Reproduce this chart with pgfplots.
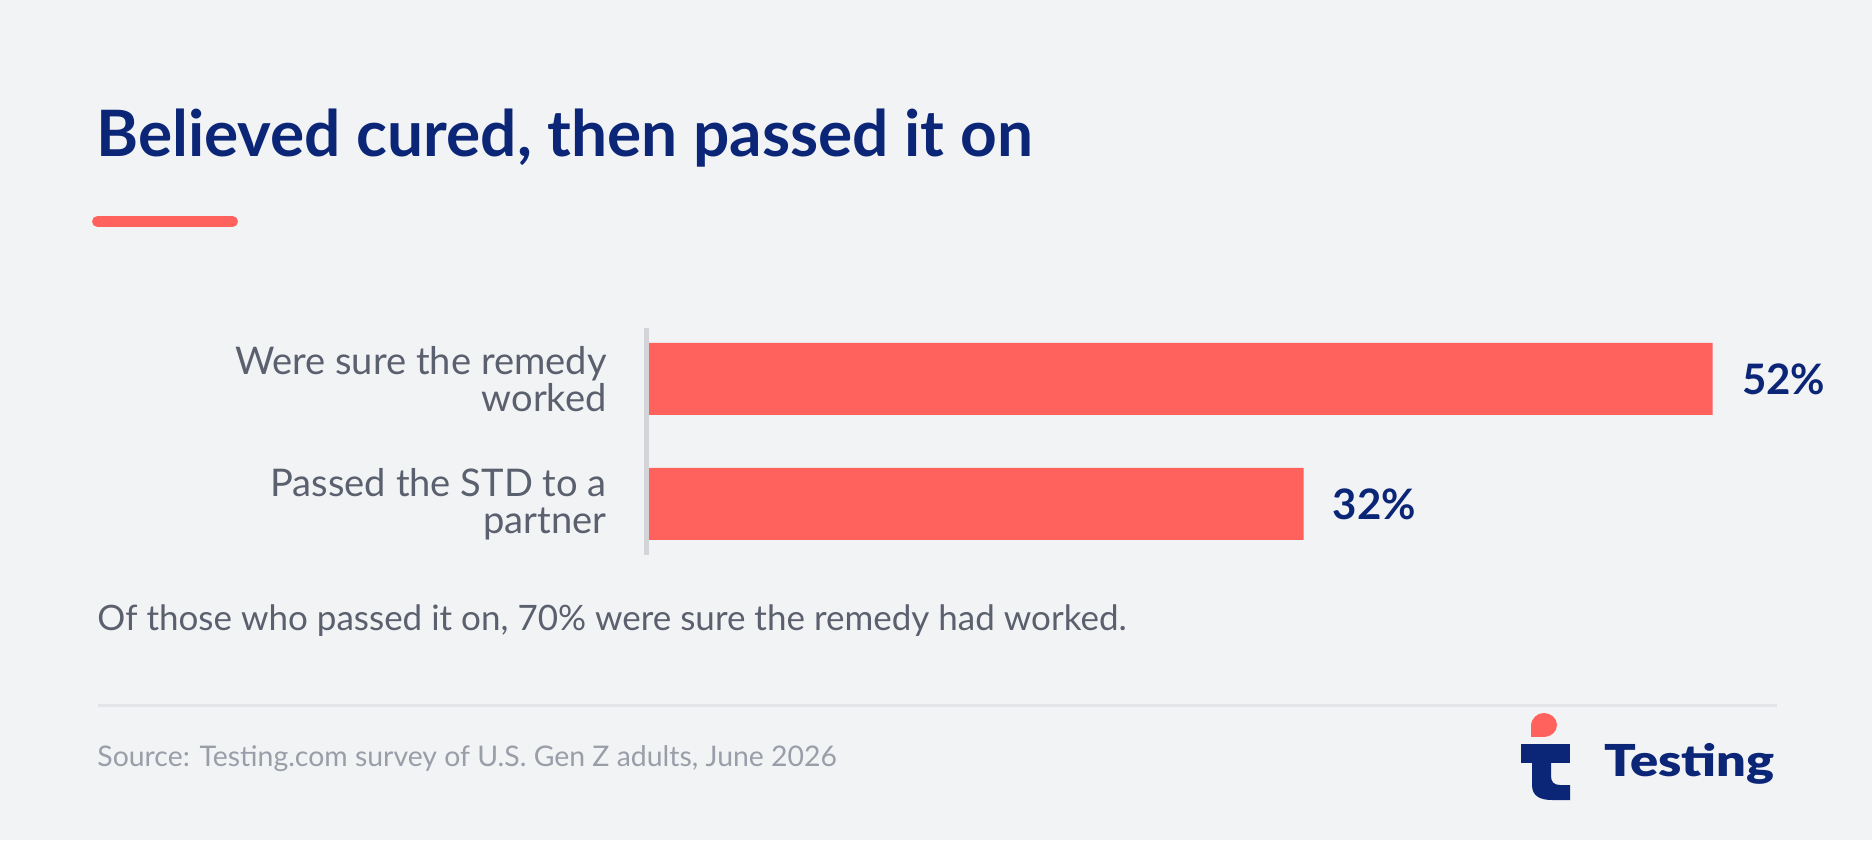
\documentclass[border=0pt]{standalone}
\usepackage{fontspec}
\setmainfont{Lato}
\newfontfamily\latoblack{Lato Black}
\usepackage{pgfplots}
\pgfplotsset{compat=1.18}

\definecolor{bgc}{HTML}{F2F3F5}
\definecolor{navy}{HTML}{0B2577}
\definecolor{barred}{HTML}{FF625D}
\definecolor{labelgray}{HTML}{5B606E}
\definecolor{srcgray}{HTML}{9A9EA9}
\definecolor{rulegray}{HTML}{E2E4E8}
\definecolor{axisgray}{HTML}{D3D4D8}

\begin{document}
\begin{tikzpicture}[x=0.5pt,y=0.5pt]
% canvas
\fill[bgc] (0,0) rectangle (1872,840);
\useasboundingbox (0,0) rectangle (1872,840);

% title and accent rule
\node[anchor=base west, inner sep=0pt, text=navy,
      font=\bfseries\fontsize{32}{32}\selectfont] at (96,683.3)
  {Believed cured, then passed it on};
\draw[barred, line width=5.5pt, line cap=round] (97.5,618.5) -- (232.5,618.5);

% bars
\begin{axis}[
  at={(324.5pt,136.75pt)}, anchor=south west,
  scale only axis, width=562.5pt, height=125pt,
  xmin=0, xmax=55, ymin=-0.5, ymax=1.5,
  axis line style={draw=none},
  major tick length=0pt,
  xtick=\empty,
  ytick={0,1},
  yticklabels={{Passed the STD to a\\partner},{Were sure the remedy\\worked}},
  yticklabel style={align=right, inner sep=0pt, xshift=-21pt,
    text=labelgray, font=\fontsize{19.05}{18.7}\selectfont},
  /pgf/number format/assume math mode=true,
  clip=false,
]
\addplot[xbar, bar width=36pt, fill=barred, draw=none,
  point meta=x,
  nodes near coords={\pgfmathprintnumber{\pgfplotspointmeta}\%},
  nodes near coords style={anchor=west, inner sep=0pt, xshift=14.5pt,
    text=navy, font=\bfseries\fontsize{21}{21}\selectfont},
] coordinates {(52,1) (32,0)};
\end{axis}

% value axis line
\draw[axisgray, line width=2.35pt] (646.7,512) -- (646.7,285);

% note
\node[anchor=base west, inner sep=0pt, text=labelgray,
      font=\fontsize{17.5}{17.5}\selectfont] at (97,209)
  {Of those who passed it on, 70\% were sure the remedy had worked.};

% footer rule and source
\draw[rulegray, line width=1.5pt] (98,134) -- (1777,134);
\node[anchor=base west, inner sep=0pt, text=srcgray,
      font=\fontsize{14.2}{14.2}\selectfont] at (97,74)
  {Source: Testing.com survey of U.S. Gen Z adults, June 2026};

% brand mark
\fill[navy] (1521,77) rectangle (1570,96);
\fill[navy] (1532,77) -- (1532,55) .. controls (1532,44) and (1540,40) .. (1552,40)
  -- (1570,40) -- (1570,55) -- (1560,55) .. controls (1554,55) and (1551,58) .. (1551,64)
  -- (1551,77) -- cycle;
\fill[barred] (1531,103) -- (1531,114) .. controls (1531,121.5) and (1537,127) .. (1544,127)
  .. controls (1551,127) and (1557,121.5) .. (1557,115)
  .. controls (1557,108.5) and (1551,103) .. (1544,103) -- cycle;
\node[anchor=base west, inner sep=0pt, text=navy,
      font=\latoblack\fontsize{22}{22}\selectfont] at (1604,63)
  {\scalebox{1.19}[1]{Testing}};
\end{tikzpicture}
\end{document}
